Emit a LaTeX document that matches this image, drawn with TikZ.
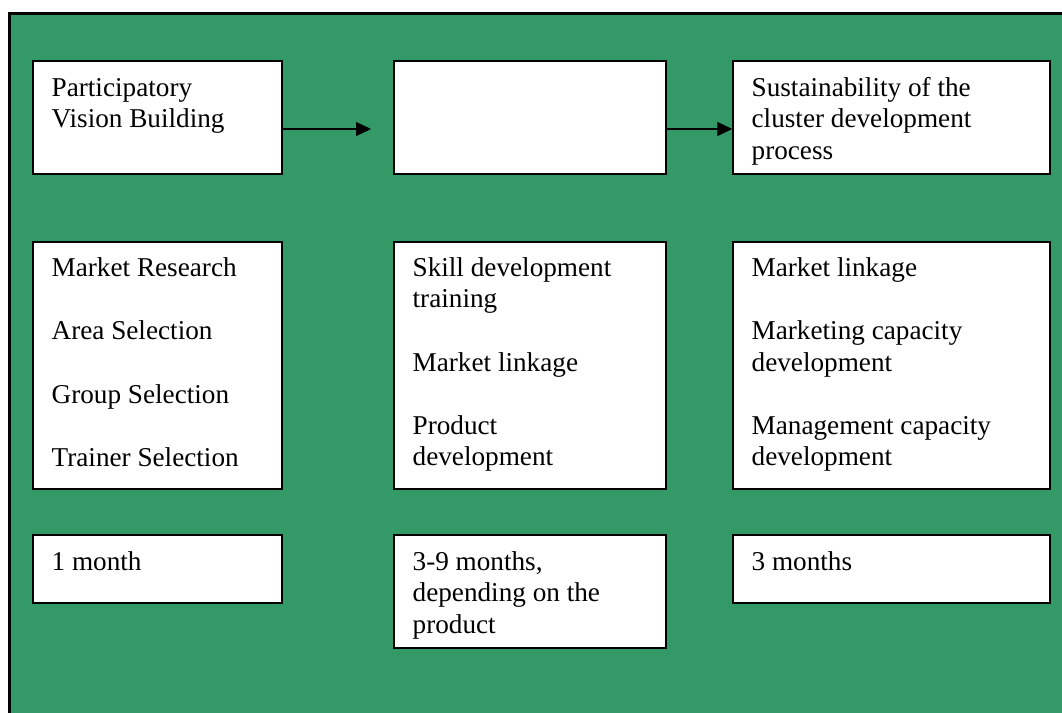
\documentclass[tikz,border=0pt]{standalone}
\usepackage{fontspec}
\setmainfont{Liberation Serif}
\usetikzlibrary{fit,calc,arrows.meta}
\definecolor{seagreen}{HTML}{339966}
\begin{document}
\begin{tikzpicture}[x=0.5pt,y=-0.5pt,
  frame/.style={draw=black,line width=1.5pt,fill=seagreen},
  box/.style={draw=black,line width=0.75pt,fill=white,inner sep=0pt},
  txt/.style={anchor=north west,align=left,inner sep=0pt,
    font=\fontsize{13.6pt}{15.6pt}\selectfont},
  arr/.style={line width=0.6pt,-{Triangle[length=7.5pt,width=7pt]}}]
\useasboundingbox (0,0) rectangle (1062,713);
\clip (0,0) rectangle (1062,713);
% green panel, running off the right and bottom edges
\draw[frame] (9.5,13.5) rectangle (1090,740);

% top row
\node[box,fit={(33,61) (282,174)}] (b1) {};
\node[box,fit={(394,61) (666,174)}] (b2) {};
\node[box,fit={(733,61) (1050,174)}] (b3) {};
% middle row
\node[box,fit={(33,242) (282,489)}] (m1) {};
\node[box,fit={(394,242) (666,489)}] (m2) {};
\node[box,fit={(733,242) (1050,489)}] (m3) {};
% bottom row
\node[box,fit={(33,535) (282,603)}] (t1) {};
\node[box,fit={(394,535) (666,648)}] (t2) {};
\node[box,fit={(733,535) (1050,603)}] (t3) {};

% texts: a strut on the first line fixes the top of each text block
\node[txt] (b1t) at ($(b1.north west)+(19,14.2)$) {\strut Participatory\\Vision Building};
\node[txt] (b3t) at ($(b3.north west)+(19,14.2)$) {\strut Sustainability of the\\cluster development\\process};
\node[txt] (m1t) at ($(m1.north west)+(19,13.2)$) {\strut Market Research\\[16pt]Area Selection\\[16pt]Group Selection\\[16pt]Trainer Selection};
\node[txt] (m2t) at ($(m2.north west)+(19,13.2)$) {\strut Skill development\\training\\[16pt]Market linkage\\[16pt]Product\\development};
\node[txt] (m3t) at ($(m3.north west)+(19,13.2)$) {\strut Market linkage\\[16pt]Marketing capacity\\development\\[16pt]Management capacity\\development};
\node[txt] (t1t) at ($(t1.north west)+(19,14.2)$) {\strut 1 month};
\node[txt] (t2t) at ($(t2.north west)+(19,14.2)$) {\strut 3-9 months,\\depending on the\\product};
\node[txt] (t3t) at ($(t3.north west)+(19,14.2)$) {\strut 3 months};

% arrows
\coordinate (ay) at (0,129);
\coordinate (a1end) at (371,129);
\draw[arr] (b1.east |- ay) -- (a1end);
\draw[arr] (b2.east |- ay) -- (b3.west |- ay);
\end{tikzpicture}
\end{document}
